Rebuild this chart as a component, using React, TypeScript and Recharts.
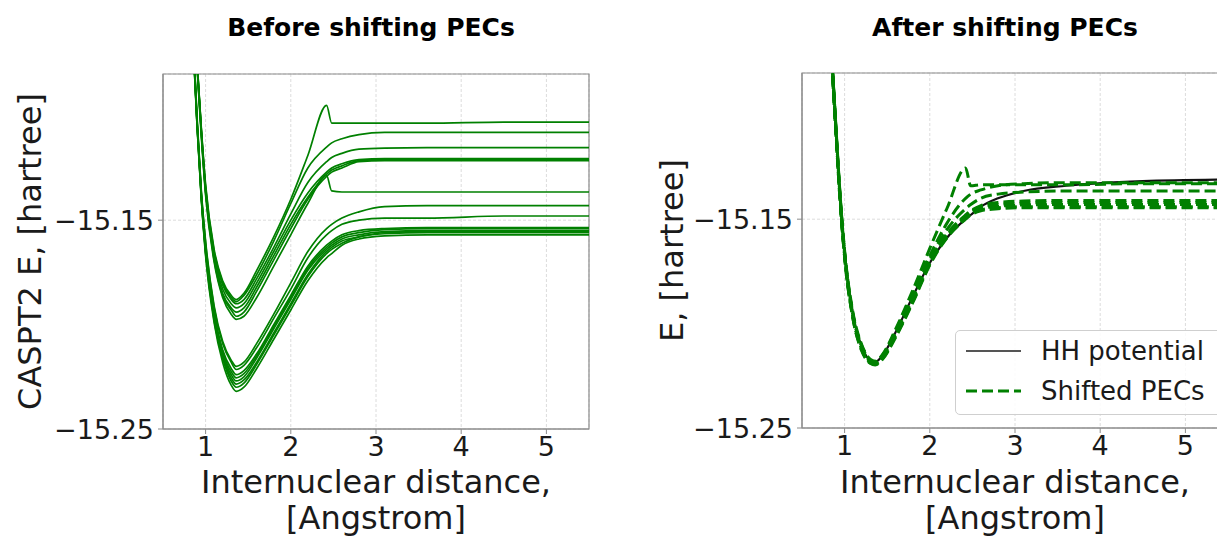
import React from 'react';
import { LineChart, Line, XAxis, YAxis, CartesianGrid, ReferenceArea } from 'recharts';

const FONT = '"DejaVu Sans", sans-serif';
const GREEN = '#008000';

// internuclear distance grid [Angstrom]
const distances = [0.84, 0.9, 0.95, 1.0, 1.1, 1.2, 1.3, 1.36, 1.45, 1.6, 1.8, 2.0, 2.2, 2.42, 2.48, 2.6, 2.8, 3.1, 3.6, 4.5, 5.5];
const xTicks = [1, 2, 3, 4, 5];
const yTicks = [-15.25, -15.15];

// raw CASPT2 PECs, deeper group
const rawLow1 = [-15.050, -15.101, -15.136, -15.160, -15.191, -15.208, -15.217, -15.220, -15.218, -15.209, -15.195, -15.180, -15.165, -15.154, -15.152, -15.149, -15.146, -15.1435, -15.143, -15.143, -15.143];
const rawLow2 = [-15.051, -15.102, -15.137, -15.161, -15.192, -15.209, -15.218, -15.2215, -15.2195, -15.211, -15.197, -15.183, -15.168, -15.157, -15.155, -15.152, -15.150, -15.149, -15.149, -15.148, -15.148];
const rawLow3 = [-15.052, -15.103, -15.138, -15.163, -15.194, -15.212, -15.221, -15.224, -15.222, -15.214, -15.200, -15.186, -15.172, -15.162, -15.160, -15.157, -15.155, -15.154, -15.1535, -15.1535, -15.1535];
const rawLow4 = [-15.052, -15.103, -15.138, -15.164, -15.195, -15.213, -15.2225, -15.2255, -15.2235, -15.215, -15.201, -15.187, -15.173, -15.163, -15.161, -15.158, -15.156, -15.1545, -15.154, -15.154, -15.154];
const rawLow5 = [-15.053, -15.104, -15.139, -15.165, -15.196, -15.214, -15.224, -15.227, -15.225, -15.216, -15.202, -15.188, -15.174, -15.164, -15.162, -15.159, -15.157, -15.1555, -15.155, -15.155, -15.155];
const rawLow6 = [-15.053, -15.104, -15.139, -15.165, -15.197, -15.215, -15.2255, -15.2285, -15.2265, -15.218, -15.204, -15.190, -15.176, -15.165, -15.163, -15.160, -15.158, -15.156, -15.1555, -15.1555, -15.1555];
const rawLow7 = [-15.054, -15.105, -15.140, -15.166, -15.198, -15.216, -15.227, -15.230, -15.228, -15.219, -15.205, -15.191, -15.177, -15.166, -15.164, -15.161, -15.158, -15.1565, -15.156, -15.156, -15.156];
const rawLow8 = [-15.054, -15.105, -15.140, -15.167, -15.199, -15.218, -15.229, -15.232, -15.230, -15.221, -15.207, -15.193, -15.179, -15.168, -15.166, -15.162, -15.159, -15.1575, -15.157, -15.157, -15.157];

// raw CASPT2 PECs, shallower group
const rawHigh1 = [-15.040, -15.074, -15.106, -15.133, -15.164, -15.179, -15.186, -15.188, -15.185, -15.174, -15.158, -15.140, -15.119, -15.095, -15.1035, -15.1035, -15.1035, -15.1035, -15.1035, -15.103, -15.103];
const rawHigh2 = [-15.040, -15.074, -15.107, -15.134, -15.165, -15.180, -15.187, -15.189, -15.186, -15.176, -15.160, -15.142, -15.125, -15.115, -15.113, -15.111, -15.109, -15.108, -15.108, -15.108, -15.108];
const rawHigh3 = [-15.041, -15.075, -15.107, -15.135, -15.166, -15.181, -15.188, -15.190, -15.188, -15.178, -15.163, -15.147, -15.132, -15.122, -15.120, -15.118, -15.116, -15.1155, -15.1153, -15.1153, -15.1153];
const rawHigh4 = [-15.041, -15.075, -15.108, -15.136, -15.167, -15.183, -15.190, -15.192, -15.190, -15.180, -15.165, -15.150, -15.137, -15.127, -15.125, -15.123, -15.121, -15.1205, -15.1205, -15.1205, -15.1205];
const rawHigh5 = [-15.042, -15.076, -15.108, -15.136, -15.168, -15.185, -15.192, -15.194, -15.192, -15.182, -15.167, -15.152, -15.139, -15.128, -15.126, -15.124, -15.1215, -15.121, -15.121, -15.121, -15.121];
const rawHigh6 = [-15.042, -15.076, -15.109, -15.137, -15.169, -15.186, -15.193, -15.196, -15.194, -15.184, -15.169, -15.154, -15.140, -15.129, -15.127, -15.125, -15.122, -15.1215, -15.1215, -15.1215, -15.1215];
const rawHigh7 = [-15.043, -15.077, -15.110, -15.138, -15.170, -15.187, -15.195, -15.1975, -15.196, -15.187, -15.172, -15.157, -15.142, -15.1285, -15.136, -15.1365, -15.1365, -15.1365, -15.1365, -15.1365, -15.1365];

// reference HH potential
const hhPotential = [-15.065, -15.108, -15.141, -15.166, -15.196, -15.211, -15.2175, -15.2183, -15.215, -15.204, -15.187, -15.171, -15.159, -15.150, -15.148, -15.144, -15.140, -15.1365, -15.134, -15.1318, -15.131];

// PECs after shifting
const shifted1 = [-15.064, -15.107, -15.140, -15.165, -15.195, -15.210, -15.217, -15.218, -15.2145, -15.2025, -15.184, -15.164, -15.145, -15.1255, -15.134, -15.1335, -15.1335, -15.1335, -15.1335, -15.133, -15.133];
const shifted2 = [-15.065, -15.108, -15.141, -15.166, -15.196, -15.2105, -15.2175, -15.2183, -15.2148, -15.2035, -15.186, -15.1675, -15.152, -15.140, -15.138, -15.136, -15.134, -15.133, -15.1325, -15.1325, -15.1325];
const shifted3 = [-15.065, -15.108, -15.141, -15.166, -15.196, -15.211, -15.2178, -15.2185, -15.2152, -15.204, -15.187, -15.169, -15.155, -15.145, -15.143, -15.140, -15.138, -15.137, -15.1365, -15.1365, -15.1365];
const shifted4 = [-15.066, -15.109, -15.142, -15.167, -15.197, -15.2115, -15.218, -15.2188, -15.2155, -15.2045, -15.188, -15.170, -15.157, -15.148, -15.146, -15.1435, -15.142, -15.1413, -15.141, -15.141, -15.141];
const shifted5 = [-15.066, -15.109, -15.142, -15.167, -15.197, -15.212, -15.2183, -15.219, -15.216, -15.205, -15.1885, -15.1705, -15.1575, -15.1485, -15.1465, -15.144, -15.143, -15.1423, -15.142, -15.142, -15.142];
const shifted6 = [-15.066, -15.109, -15.142, -15.167, -15.197, -15.212, -15.2185, -15.2192, -15.2162, -15.2055, -15.189, -15.171, -15.158, -15.149, -15.147, -15.145, -15.1438, -15.1432, -15.143, -15.143, -15.143];
const shifted7 = [-15.067, -15.110, -15.143, -15.168, -15.198, -15.2125, -15.2188, -15.2195, -15.2165, -15.206, -15.1895, -15.1715, -15.1585, -15.1495, -15.1475, -15.1455, -15.1445, -15.144, -15.144, -15.144, -15.144];
const shifted8 = [-15.067, -15.110, -15.143, -15.168, -15.198, -15.213, -15.219, -15.2198, -15.2168, -15.2065, -15.190, -15.172, -15.159, -15.150, -15.148, -15.146, -15.145, -15.1445, -15.1445, -15.1445, -15.1445];

const rawCurves = [rawLow1, rawLow2, rawLow3, rawLow4, rawLow5, rawLow6, rawLow7, rawLow8,
  rawHigh1, rawHigh2, rawHigh3, rawHigh4, rawHigh5, rawHigh6, rawHigh7];
const shiftedCurves = [shifted1, shifted2, shifted3, shifted4, shifted5, shifted6, shifted7, shifted8];

const buildRows = (curves: number[][], extra?: number[]) =>
  distances.map((x, i) => {
    const row: Record<string, number> = { x };
    curves.forEach((c, k) => { row['c' + k] = c[i]; });
    if (extra) row.hh = extra[i];
    return row;
  });

const beforeRows = buildRows(rawCurves);
const afterRows = buildRows(shiftedCurves, hhPotential);

const fmtY = (v: number) => '\u2212' + Math.abs(v).toFixed(2);

const XLabel = (props: any) => {
  const vb = props.viewBox || {};
  const cx = vb.x + vb.width / 2;
  return (
    <text textAnchor="middle" fontSize={32} fill="#1a1a1a" fontFamily={FONT}>
      <tspan x={cx} y={493}>Internuclear distance,</tspan>
      <tspan x={cx} y={529}>[Angstrom]</tspan>
    </text>
  );
};

const YLabel = (props: any) => {
  const vb = props.viewBox || {};
  const cy = vb.y + vb.height / 2;
  const bx = props.bx;
  return (
    <text x={bx} y={cy} transform={`rotate(-90, ${bx}, ${cy})`} textAnchor="middle"
      fontSize={32} fill="#1a1a1a" fontFamily={FONT}>
      {props.text}
    </text>
  );
};

const tickStyle = { fontSize: 27, fill: '#1a1a1a', fontFamily: FONT };
const spine = '#8c8c8c';

const Panel = ({ rows, count, width, marginTop, marginRight, yWidth, xHeight, yTitle, yTitleX, shifted }: any) => (
  <LineChart width={width} height={536} data={rows}
    margin={{ top: marginTop, right: marginRight, left: 0, bottom: 0 }}>
    <CartesianGrid stroke="#dcdcdc" strokeDasharray="3 2" />
    <XAxis dataKey="x" type="number" domain={[0.5, 5.5]} allowDataOverflow ticks={xTicks} interval={0}
      height={xHeight} tick={tickStyle} tickSize={5} tickMargin={3}
      tickLine={{ stroke: spine }} axisLine={{ stroke: spine }} label={<XLabel />} />
    <YAxis type="number" domain={[-15.25, -15.08]} allowDataOverflow ticks={yTicks} interval={0}
      width={yWidth} tick={tickStyle} tickSize={5} tickMargin={4} tickFormatter={fmtY}
      tickLine={{ stroke: spine }} axisLine={{ stroke: spine }}
      label={<YLabel text={yTitle} bx={yTitleX} />} />
    <ReferenceArea x1={0.5} x2={5.5} y1={-15.25} y2={-15.08} fill="none" stroke={spine} strokeWidth={1.2} ifOverflow="visible" />
    {shifted && (
      <Line dataKey="hh" type="monotone" stroke="#111" strokeWidth={2.2} dot={false} isAnimationActive={false} />
    )}
    {Array.from({ length: count }).map((_, k) => (
      <Line key={k} dataKey={'c' + k} type="monotone" stroke={GREEN}
        strokeWidth={shifted ? 3 : 1.7} strokeDasharray={shifted ? '11 5' : undefined}
        dot={false} isAnimationActive={false} />
    ))}
  </LineChart>
);

const titleStyle: React.CSSProperties = {
  position: 'absolute', top: 14, fontFamily: FONT, fontWeight: 'bold', fontSize: 25,
  lineHeight: '28px', textAlign: 'center', color: '#000', whiteSpace: 'nowrap',
};

export default function App() {
  return (
    <div style={{ position: 'absolute', left: 0, top: 0, width: 1217, height: 536, overflow: 'hidden', background: '#fff' }}>
      <div style={{ ...titleStyle, left: 171, width: 400 }}>Before shifting PECs</div>
      <div style={{ ...titleStyle, left: 805, width: 400 }}>After shifting PECs</div>

      <div style={{ position: 'absolute', left: 0, top: 0 }}>
        <Panel rows={beforeRows} count={rawCurves.length} width={600} marginTop={74} marginRight={11}
          yWidth={163} xHeight={107} yTitle="CASPT2 E, [hartree]" yTitleX={41} />
      </div>

      <div style={{ position: 'absolute', left: 620, top: 0 }}>
        <Panel rows={afterRows} count={shiftedCurves.length} width={620} marginTop={73} marginRight={12}
          yWidth={182} xHeight={108} yTitle="E, [hartree]" yTitleX={63} shifted />
      </div>

      {/* legend box for the right panel */}
      <div style={{
        position: 'absolute', left: 955, top: 330, width: 268, height: 85, boxSizing: 'border-box',
        border: '1px solid #cfcfcf', borderRadius: 5, background: 'rgba(255,255,255,0.85)',
        fontFamily: FONT, fontSize: 26, color: '#1a1a1a',
      }}>
        <svg width={268} height={85} style={{ position: 'absolute', left: 0, top: 0 }}>
          <line x1={10} x2={65} y1={20} y2={20} stroke="#555" strokeWidth={2.2} />
          <line x1={10} x2={65} y1={60} y2={60} stroke={GREEN} strokeWidth={3} strokeDasharray="11 5" />
          <text x={85} y={29} fontSize={26} fontFamily={FONT} fill="#1a1a1a">HH potential</text>
          <text x={85} y={69} fontSize={26} fontFamily={FONT} fill="#1a1a1a">Shifted PECs</text>
        </svg>
      </div>
    </div>
  );
}
